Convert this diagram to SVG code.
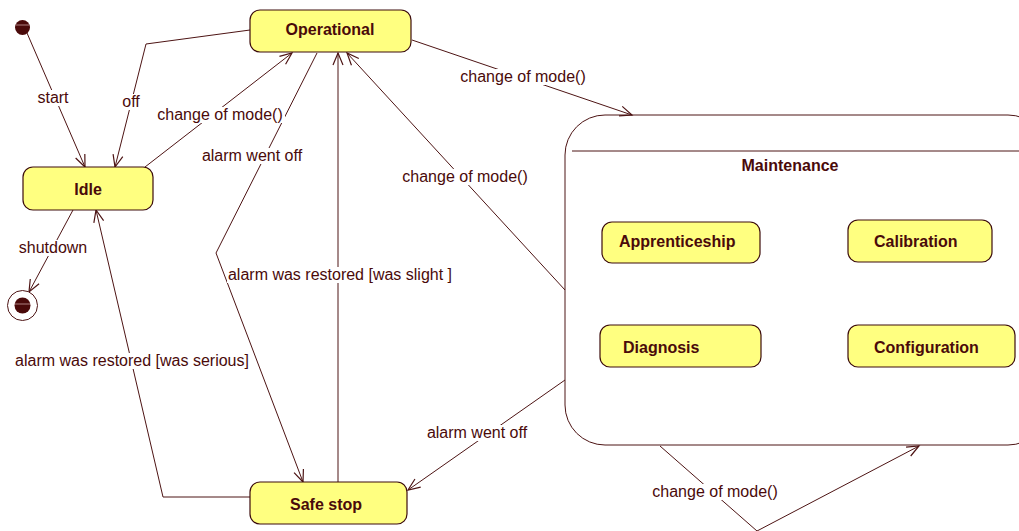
<svg xmlns="http://www.w3.org/2000/svg" width="1019" height="531" viewBox="0 0 1019 531">
  <style>
    .state { fill: #ffff80; stroke: #3c0c0c; stroke-width: 1.2; }
    .composite { fill: #ffffff; stroke: #4d1414; stroke-width: 1; }
    .name { font-family: "Liberation Sans", Arial, sans-serif; font-size: 16px; font-weight: bold; fill: #4a0a0a; }
    .edge { fill: none; stroke: #4d1414; stroke-width: 1; marker-end: url(#open); }
    .label { font-family: "Liberation Sans", Arial, sans-serif; font-size: 16px; fill: #4a0a0a; text-anchor: middle; }
    .pad { fill: #ffffff; }
  </style>
  <defs>
    <marker id="open" viewBox="-14 -8 16 16" refX="0" refY="0" markerWidth="16" markerHeight="16" markerUnits="userSpaceOnUse" orient="auto">
      <path d="M-12,-5 L0,0 L-12,5" fill="none" stroke="#4d1414" stroke-width="1.2"/>
    </marker>
  </defs>
  <rect width="1019" height="531" fill="#ffffff"/>

  <!-- composite state first, so transitions draw over it -->
  <g id="maintenance">
    <rect class="composite" x="565" y="115" width="483" height="330" rx="40" ry="40"/>
    <line x1="572" y1="151" x2="1048" y2="151" stroke="#4d1414" stroke-width="1"/>
    <text class="name" x="790" y="171" text-anchor="middle">Maintenance</text>
  </g>

  <g id="connectors">
    <polyline class="edge" points="27,33 85,167"/>
    <polyline class="edge" points="250,30 146,44 115,167"/>
    <polyline class="edge" points="145,167 292,53"/>
    <polyline class="edge" points="317,53 216,253 303,482"/>
    <polyline class="edge" points="338,482 338,53"/>
    <polyline class="edge" points="412,40 632,115"/>
    <polyline class="edge" points="565,290 347,53"/>
    <polyline class="edge" points="73,210 29,292"/>
    <polyline class="edge" points="250,497 163,497 96,210"/>
    <polyline class="edge" points="565,380 408,490"/>
    <polyline class="edge" points="660,446 757,531 919,446"/>

    <rect class="pad" x="35" y="90" width="36" height="16"/>
    <text class="label" x="53" y="103">start</text>
    <rect class="pad" x="120" y="94" width="22" height="16"/>
    <text class="label" x="131" y="107">off</text>
    <rect class="pad" x="155" y="107" width="130" height="16"/>
    <text class="label" x="220" y="120">change of mode()</text>
    <rect class="pad" x="200" y="148" width="104" height="16"/>
    <text class="label" x="252" y="161">alarm went off</text>
    <rect class="pad" x="459" y="69" width="129" height="16"/>
    <text class="label" x="523" y="82">change of mode()</text>
    <rect class="pad" x="400" y="169" width="129" height="16"/>
    <text class="label" x="465" y="182">change of mode()</text>
    <rect class="pad" x="17" y="240" width="72" height="16"/>
    <text class="label" x="53" y="253">shutdown</text>
    <rect class="pad" x="227" y="267" width="227" height="16"/>
    <text class="label" x="340" y="280">alarm was restored [was slight ]</text>
    <rect class="pad" x="13" y="353" width="238" height="16"/>
    <text class="label" x="132" y="366">alarm was restored [was serious]</text>
    <rect class="pad" x="425" y="425" width="105" height="16"/>
    <text class="label" x="477" y="438">alarm went off</text>
    <rect class="pad" x="650" y="484" width="129" height="16"/>
    <text class="label" x="715" y="497">change of mode()</text>
  </g>

  <g id="initial">
    <circle cx="22.5" cy="27.5" r="7.5" fill="#4a0a0a"/>
    <line x1="15.5" y1="25" x2="29.5" y2="25" stroke="#c8a0a0" stroke-width="0.8"/>
  </g>

  <g id="final">
    <circle cx="22.5" cy="305.5" r="15" fill="#ffffff" stroke="#4d1414" stroke-width="1"/>
    <circle cx="22.5" cy="305.5" r="8" fill="#4a0a0a"/>
    <line x1="14.5" y1="304" x2="30.5" y2="304" stroke="#c8a0a0" stroke-width="0.8"/>
  </g>

  <g id="operational">
    <rect class="state" x="250" y="10" width="161" height="42" rx="10" ry="10"/>
    <text class="name" x="330" y="35" text-anchor="middle">Operational</text>
  </g>

  <g id="idle">
    <rect class="state" x="23" y="167" width="130" height="43" rx="10" ry="10"/>
    <text class="name" x="88" y="195" text-anchor="middle">Idle</text>
  </g>

  <g id="safe-stop">
    <rect class="state" x="250" y="482" width="157" height="42" rx="10" ry="10"/>
    <text class="name" x="326" y="510" text-anchor="middle">Safe stop</text>
  </g>

  <g id="apprenticeship">
    <rect class="state" x="602" y="222" width="158" height="41" rx="10" ry="10"/>
    <text class="name" x="619" y="247">Apprenticeship</text>
  </g>

  <g id="calibration">
    <rect class="state" x="848" y="220" width="144" height="42" rx="10" ry="10"/>
    <text class="name" x="874" y="247">Calibration</text>
  </g>

  <g id="diagnosis">
    <rect class="state" x="600" y="325" width="161" height="42" rx="10" ry="10"/>
    <text class="name" x="623" y="353">Diagnosis</text>
  </g>

  <g id="configuration">
    <rect class="state" x="848" y="325" width="167" height="42" rx="10" ry="10"/>
    <text class="name" x="874" y="353">Configuration</text>
  </g>
</svg>
